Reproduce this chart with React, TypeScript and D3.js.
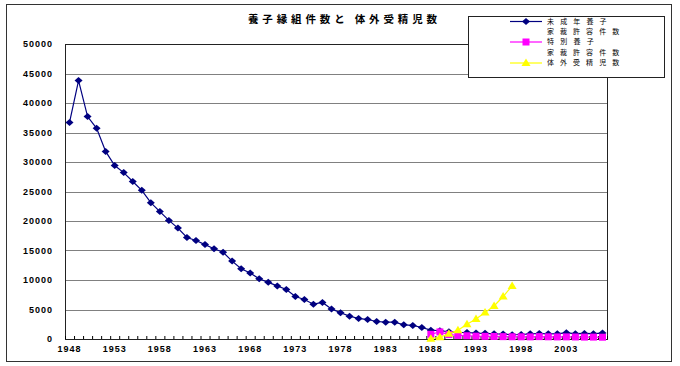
import * as d3 from 'd3';

const years: number[] = d3.range(1948, 2008);

const minorAdoption: number[] = [
  36700, 43800, 37700, 35700, 31800, 29400, 28200, 26700, 25200, 23100,
  21600, 20100, 18800, 17200, 16700, 16000, 15300, 14700, 13200, 11900,
  11200, 10200, 9600, 9000, 8400, 7200, 6700, 5900, 6200, 5100,
  4450, 3870, 3480, 3300, 2970, 2850, 2850, 2400, 2300, 1950,
  1500, 1400, 1250, 1100, 1100, 1000, 960, 880, 850, 720,
  760, 880, 930, 880, 900, 1050, 900, 940, 900, 1000,
];

const specialYears: number[] = d3.range(1988, 2008);
const specialAdoption: number[] = [
  800, 1200, 750, 600, 550, 480, 450, 430, 400, 380,
  370, 360, 400, 370, 350, 360, 340, 320, 320, 300,
];

const ivfYears: number[] = d3.range(1988, 1998);
const ivfBirths: number[] = [50, 300, 900, 1500, 2500, 3400, 4500, 5600, 7200, 9000];

const yTicks: number[] = d3.range(0, 50001, 5000);
const xLabelYears: number[] = d3.range(1948, 2004, 5);

const title = '養子縁組件数と 体外受精児数';
const legendItems = [
  { lines: ['未成年養子', '家裁許容件数'], color: '#000080', shape: 'diamond', y: 21.5 },
  { lines: ['特別養子', '家裁許容件数'], color: '#FF00FF', shape: 'square', y: 42 },
  { lines: ['体外受精児数'], color: '#FFFF00', shape: 'triangle', y: 63 },
];

const W = 680;
const H = 366;
const plot = { left: 65, right: 607, top: 44, bottom: 339 };

const x = d3.scaleBand<number>().domain(years).range([plot.left, plot.right]);
const cx = (yr: number) => (x(yr) ?? 0) + x.bandwidth() / 2;
const y = d3.scaleLinear().domain([0, 50000]).range([plot.bottom, plot.top]);

const numFont = '"Liberation Sans", Arial, sans-serif';
const jpFont = '"Noto Sans CJK JP", sans-serif';

const diamond = 'M0,-3.5L4,0L0,3.5L-4,0Z';
const square = 'M-3.5,-3.5H3.5V3.5H-3.5Z';
const triangle = 'M0,-4.5L4.5,3L-4.5,3Z';
const shapes: Record<string, string> = { diamond, square, triangle };

function Series({ xs, vs, color, shape }: { xs: number[]; vs: number[]; color: string; shape: string }) {
  const line = d3
    .line<number>()
    .x((_, i) => cx(xs[i]))
    .y((v) => y(v));
  return (
    <g>
      <path d={line(vs) ?? ''} fill="none" stroke={color} strokeWidth={1.2} />
      {vs.map((v, i) => (
        <path key={i} d={shapes[shape]} transform={`translate(${cx(xs[i])},${y(v)})`} fill={color} />
      ))}
    </g>
  );
}

export default function App() {
  const boundaries = d3.range(years.length + 1).map((i) => plot.left + i * x.step());
  return (
    <svg width={W} height={H} style={{ position: 'absolute', left: 0, top: 0, background: '#fff' }}>
      <rect x={0} y={0} width={W} height={H} fill="#fff" />
      <rect x={6.5} y={4.5} width={665} height={357} fill="none" stroke="#333" strokeWidth={1} />

      {/* grid */}
      {yTicks.slice(1, -1).map((t) => (
        <line key={t} x1={plot.left} x2={plot.right} y1={Math.round(y(t)) + 0.5} y2={Math.round(y(t)) + 0.5} stroke="#808080" strokeWidth={1} />
      ))}
      <rect x={plot.left + 0.5} y={plot.top + 0.5} width={plot.right - plot.left} height={plot.bottom - plot.top} fill="none" stroke="#222" strokeWidth={1} />

      {/* y labels */}
      {yTicks.map((t) => (
        <text key={t} x={53} y={y(t)} dy="0.35em" textAnchor="end" fontFamily={numFont} fontSize={9} fontWeight="bold" letterSpacing={1} fill="#000">
          {t}
        </text>
      ))}

      {/* x ticks */}
      {boundaries.map((b, i) => (
        <line key={i} x1={b + 0.5} x2={b + 0.5} y1={plot.bottom} y2={plot.bottom - 3} stroke="#000" />
      ))}
      {xLabelYears.map((yr) => (
        <text key={yr} x={cx(yr)} y={352} textAnchor="middle" fontFamily={numFont} fontSize={9} fontWeight="bold" letterSpacing={1} fill="#000">
          {yr}
        </text>
      ))}

      <Series xs={years} vs={minorAdoption} color="#000080" shape="diamond" />
      <Series xs={specialYears} vs={specialAdoption} color="#FF00FF" shape="square" />
      <Series xs={ivfYears} vs={ivfBirths} color="#FFFF00" shape="triangle" />

      {/* title */}
      <text x={248} y={23} textLength={189} lengthAdjust="spacing" fontFamily={jpFont} fontSize={10.5} fontWeight="bold" fill="#000">
        {title}
      </text>

      {/* legend */}
      <rect x={468.5} y={16.5} width={196} height={61} fill="#fff" stroke="#222" strokeWidth={1} />
      {legendItems.map((item, i) => {
        const ly = item.y;
        return (
          <g key={i}>
            <line x1={510} x2={542} y1={ly} y2={ly} stroke={item.color} strokeWidth={1.2} />
            <path d={shapes[item.shape]} transform={`translate(526,${ly})`} fill={item.color} />
            {item.lines.map((t, j) => (
              <text key={j} x={547} y={ly + j * 10.2} dy="0.35em" textLength={t.length * 12.7 - 4} lengthAdjust="spacing" fontFamily={jpFont} fontSize={7} fill="#000">
                {t}
              </text>
            ))}
          </g>
        );
      })}
    </svg>
  );
}
